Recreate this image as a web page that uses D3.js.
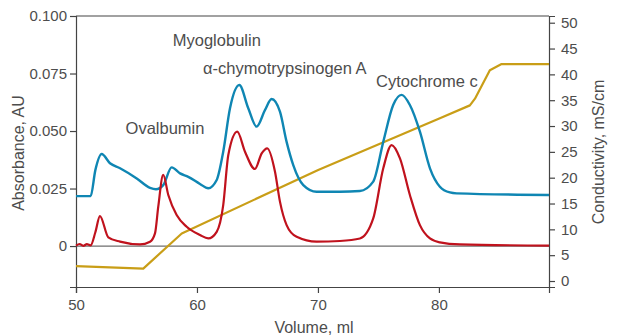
<!DOCTYPE html>
<html>
<head>
<meta charset="utf-8">
<script src="https://cdn.jsdelivr.net/npm/d3@7"></script>
<style>
  html, body { margin: 0; padding: 0; background: #fff; }
  svg { display: block; font-family: "Liberation Sans", Arial, Helvetica, sans-serif; }
</style>
</head>
<body>
<svg id="chart" width="618" height="336"></svg>
<script>
// Elution volume (ml) and UV absorbance (AU) for the blue trace
const blueVolume = [50, 51.21, 51.6, 52.12, 52.81, 53.64, 55.02, 56.12, 56.61, 57.21, 57.91, 58.6, 59.28, 60.25, 60.93, 61.63, 62.17, 62.73, 63.5, 64.24, 64.93, 65.62, 66.17, 66.86, 67.41, 67.96, 68.79, 69.89, 71.82, 73.47, 74.57, 75.4, 76.22, 76.92, 77.6, 78.43, 79.26, 80.08, 80.91, 81.46, 89.1];
const blueAbs = [0.0217, 0.0217, 0.033, 0.0400, 0.0360, 0.0338, 0.0294, 0.0253, 0.0247, 0.0265, 0.0342, 0.0316, 0.0301, 0.0270, 0.0251, 0.0287, 0.0410, 0.0599, 0.0700, 0.0599, 0.0519, 0.0591, 0.0639, 0.0584, 0.0453, 0.0352, 0.0265, 0.0236, 0.0236, 0.0239, 0.0280, 0.0453, 0.0613, 0.0657, 0.0613, 0.0497, 0.0338, 0.0258, 0.0233, 0.0229, 0.0222];

// Elution volume (ml) and absorbance (AU) for the red trace
const redVolume = [50, 50.3, 50.6, 50.9, 51.21, 51.6, 51.98, 52.67, 53.64, 55.29, 56.12, 56.53, 56.8, 57.21, 57.63, 58.32, 59.15, 60.25, 60.93, 61.63, 62.17, 62.59, 63.33, 63.97, 64.79, 65.35, 65.81, 66.45, 66.86, 67.41, 68.24, 69.89, 71.82, 73.47, 74.57, 75.4, 76.09, 76.78, 77.6, 78.43, 79.26, 80.08, 81.74, 89.1];
const redAbs = [0.0002, 0.0009, 0.0001, 0.0008, 0.0003, 0.0060, 0.0130, 0.0038, 0.0019, 0.0007, 0.0019, 0.0055, 0.0171, 0.0309, 0.0222, 0.0135, 0.0084, 0.0048, 0.0033, 0.0062, 0.0178, 0.0396, 0.0497, 0.0410, 0.0335, 0.0403, 0.0425, 0.0323, 0.0193, 0.0091, 0.0040, 0.0019, 0.0022, 0.0033, 0.0120, 0.0338, 0.0439, 0.0381, 0.0222, 0.0091, 0.0033, 0.0016, 0.0007, 0.0002];

// Salt gradient: conductivity (mS/cm)
const condVolume = [50, 55.56, 58.74, 70.02, 80.08, 82.56, 82.98, 84.21, 85.18, 89.1];
const condValue = [2.9, 2.4, 9.2, 21.5, 31.5, 34.0, 35.3, 40.8, 42.0, 42.0];

// Axis ticks
const volumeTicks = [50, 60, 70, 80];
const absTicks = [0, 0.025, 0.05, 0.075, 0.1];
const absTickLabels = ["0", "0.025", "0.050", "0.075", "0.100"];
const condTicks = [0, 5, 10, 15, 20, 25, 30, 35, 40, 45, 50];

// Peak annotations
const peakNames = ["Myoglobulin", "\u03b1-chymotrypsinogen A", "Ovalbumin", "Cytochrome c"];
const peakLabelVolume = [58.0, 60.5, 54.1, 74.8];
const peakLabelAbs = [0.0870, 0.0748, 0.0487, 0.0690];

const svg = d3.select("#chart");
const margin = { left: 76, right: 69, top: 16, bottom: 49 };
const W = 618, H = 336;
const x0 = margin.left, x1 = W - margin.right, y0 = H - margin.bottom, y1 = margin.top;

const x = d3.scaleLinear().domain([50, 89.1]).range([x0, x1]);
const yA = d3.scaleLinear().domain([-0.0178, 0.1]).range([y0, y1]);
const yC = d3.scaleLinear().domain([-1.16, 51.3]).range([y0, y1]);

const textColor = "#4d4d4d";
const axisColor = "#444";

// Frame: top line and zero baseline
svg.append("line").attr("x1", x0).attr("x2", x1).attr("y1", y1).attr("y2", y1)
  .attr("stroke", axisColor).attr("stroke-width", 1.2);
svg.append("line").attr("x1", x0).attr("x2", x1).attr("y1", yA(0)).attr("y2", yA(0))
  .attr("stroke", "#6e6e6e").attr("stroke-width", 1.2);

function styleAxis(g) {
  g.selectAll("path.domain").attr("stroke", axisColor).attr("stroke-width", 1.2);
  g.selectAll(".tick line").attr("stroke", axisColor).attr("stroke-width", 1.2);
  g.selectAll(".tick text").attr("fill", textColor).attr("font-size", 15)
    .attr("font-family", "\"Liberation Sans\", Arial, sans-serif");
}

const gx = svg.append("g").attr("transform", `translate(0,${y0})`)
  .call(d3.axisBottom(x).tickValues(volumeTicks).tickSizeOuter(0).tickSize(6).tickPadding(6));
styleAxis(gx);

const gl = svg.append("g").attr("transform", `translate(${x0},0)`)
  .call(d3.axisLeft(yA).tickValues(absTicks).tickFormat((d, i) => absTickLabels[i]).tickSizeOuter(0).tickSize(6).tickPadding(3));
styleAxis(gl);

const gr = svg.append("g").attr("transform", `translate(${x1},0)`)
  .call(d3.axisRight(yC).tickValues(condTicks).tickSizeOuter(0).tickSize(6).tickPadding(6));
styleAxis(gr);

// Traces
const curveLine = (xs, ys, yScale, curve) => d3.line()
  .x((d, i) => x(xs[i])).y((d, i) => yScale(ys[i])).curve(curve)(xs);

svg.append("path").attr("d", curveLine(condVolume, condValue, yC, d3.curveLinear))
  .attr("fill", "none").attr("stroke", "#c99e17").attr("stroke-width", 2.2).attr("stroke-linejoin", "round");
svg.append("path").attr("d", curveLine(blueVolume, blueAbs, yA, d3.curveMonotoneX))
  .attr("fill", "none").attr("stroke", "#0f86b3").attr("stroke-width", 2.4).attr("stroke-linejoin", "round");
svg.append("path").attr("d", curveLine(redVolume, redAbs, yA, d3.curveMonotoneX))
  .attr("fill", "none").attr("stroke", "#c0121d").attr("stroke-width", 2.2).attr("stroke-linejoin", "round");

// Peak labels
svg.append("g").selectAll("text").data(peakNames).join("text")
  .attr("x", (d, i) => x(peakLabelVolume[i]))
  .attr("y", (d, i) => yA(peakLabelAbs[i]))
  .attr("fill", textColor).attr("font-size", 16.5)
  .text(d => d);

// Axis titles
svg.append("text").attr("transform", `translate(24,153) rotate(-90)`)
  .attr("text-anchor", "middle").attr("fill", textColor).attr("font-size", 16)
  .text("Absorbance, AU");
svg.append("text").attr("transform", `translate(604,152) rotate(-90)`)
  .attr("text-anchor", "middle").attr("fill", textColor).attr("font-size", 16)
  .text("Conductivity, mS/cm");
svg.append("text").attr("x", 314).attr("y", 333)
  .attr("text-anchor", "middle").attr("fill", textColor).attr("font-size", 16)
  .text("Volume, ml");
</script>
</body>
</html>
